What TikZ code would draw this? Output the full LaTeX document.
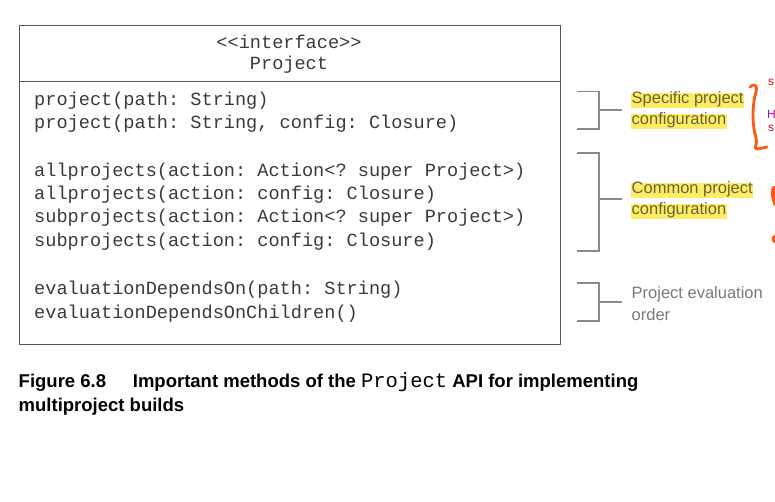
\documentclass[tikz,border=0pt]{standalone}
\usepackage{fontspec}
\setmainfont{Liberation Sans}
\setmonofont{Liberation Mono}
\usetikzlibrary{calc}
\definecolor{boxline}{HTML}{555555}
\definecolor{codegray}{HTML}{3A3A3A}
\definecolor{brk}{HTML}{8A8A8A}
\definecolor{hl}{HTML}{FFEC66}
\definecolor{hltext}{HTML}{6A6433}
\definecolor{lbltext}{HTML}{7A7A7A}
\definecolor{pen}{HTML}{FF5A14}
\definecolor{redtxt}{HTML}{CC1010}
\definecolor{purptxt}{HTML}{B0108A}
\tikzset{
  umlbox/.style={draw=boxline, line width=1.3pt, inner sep=0pt, anchor=north west},
  code/.style={anchor=west, inner sep=0pt, text=codegray, font=\fontsize{18.6}{20}\selectfont\ttfamily},
  hdr/.style={anchor=center, inner sep=0pt, text=codegray, font=\fontsize{18.6}{20}\selectfont\ttfamily},
  bracket/.style={draw=brk, line width=1.2pt},
  hlabel/.style={anchor=west, inner xsep=0.5pt, inner ysep=2.5pt, fill=hl, text=hltext, font=\fontsize{16.5}{18}\selectfont, text depth=0.22em, text height=0.78em},
  plabel/.style={anchor=west, inner xsep=0.5pt, inner ysep=2.5pt, text=lbltext, font=\fontsize{16.5}{18}\selectfont},
  caption/.style={anchor=west, inner sep=0pt, font=\fontsize{18.5}{20}\selectfont\bfseries},
  penstroke/.style={draw=pen, line width=2.8pt, line cap=round, line join=round},
  redfrag/.style={anchor=west, inner sep=0pt, text=redtxt, font=\fontsize{12}{14}\selectfont}
}
\begin{document}
\begin{tikzpicture}[x=1pt,y=-1pt]
\useasboundingbox (0,0) rectangle (775,502);
\clip (0,0) rectangle (775,502);
% class box
\node[umlbox, minimum width=541pt, minimum height=56pt] (head) at (19,25) {};
\node[umlbox, minimum width=541pt, minimum height=263pt] (body) at (19,81) {};
\node[hdr] (stereo) at (289,41.5) {<<interface>>};
\node[hdr] (cname) at (289,64.5) {Project};
% methods
\node[code] (m1) at (34,100.5) {project(path: String)};
\node[code] (m2) at (34,123.5) {project(path: String, config: Closure)};
\node[code] (m3) at (34,171.5) {allprojects(action: Action<? super Project>)};
\node[code] (m4) at (34,194.5) {allprojects(action: config: Closure)};
\node[code] (m5) at (34,217.5) {subprojects(action: Action<? super Project>)};
\node[code] (m6) at (34,241.5) {subprojects(action: config: Closure)};
\node[code] (m7) at (34,289.5) {evaluationDependsOn(path: String)};
\node[code] (m8) at (34,313.5) {evaluationDependsOnChildren()};
% brackets
\draw[bracket] (577,91.5) -- (599,91.5) -- (599,129) -- (577,129);
\draw[bracket] (599,110) -- (622,110);
\draw[bracket] (577,153) -- (599,153) -- (599,251) -- (577,251);
\draw[bracket] (599,199) -- (622,199);
\draw[bracket] (577,283) -- (599,283) -- (599,321) -- (577,321);
\draw[bracket] (599,302) -- (622,302);
% labels
\node[hlabel] (l1a) at (631,101) {Specific project};
\node[hlabel] (l1b) at (631,121.5) {configuration};
\node[hlabel] (l2a) at (631,190.5) {Common project};
\node[hlabel] (l2b) at (631,211.5) {configuration};
\node[plabel] (l3a) at (631,294.5) {Project evaluation};
\node[plabel] (l3b) at (631,315) {order};
% caption
\node[caption] (cap1) at (18.5,382) {Figure 6.8\hspace{1.45em}Important methods of the {\mdseries\fontsize{20.5}{20}\selectfont\ttfamily Project} API for implementing};
\node[caption] (cap2) at (18.5,407) {multiproject builds};
% hand annotations
\draw[penstroke] (750,87) .. controls (754,83) and (758,85) .. (756,92)
  .. controls (752,105) and (752,125) .. (756,138)
  .. controls (758,146) and (752,149) .. (758,149) -- (767,147);
\fill[pen] (772,187) .. controls (774,185) and (780,186) .. (779,190)
  .. controls (778,196) and (775,202) .. (774,207)
  .. controls (772,200) and (769,192) .. (772,187) -- cycle;
\fill[pen] (776,239) circle (4.5pt);
\node[redfrag] (r1) at (768,82) {s};
\node[redfrag, text=purptxt] (r2) at (767,114) {H};
\node[redfrag] (r3) at (768,128) {s};
\end{tikzpicture}
\end{document}
